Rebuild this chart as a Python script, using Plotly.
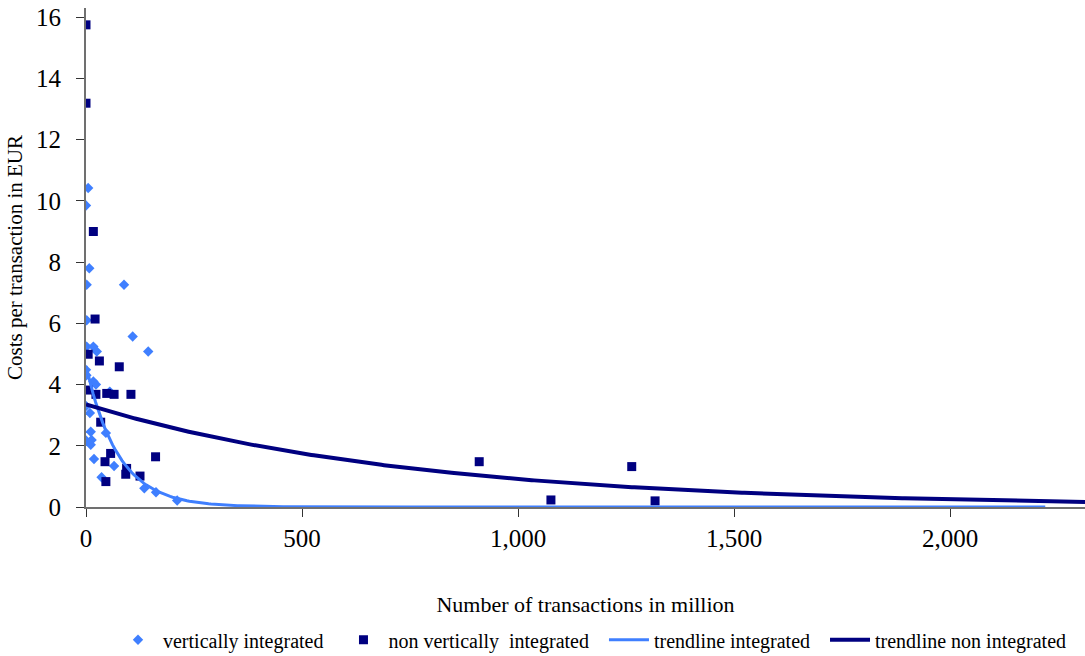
import numpy as np
import plotly.graph_objects as go

# vertically integrated (x: transactions in million, y: cost per transaction EUR)
vi_x = [5, 0, 7.6, 1.5, 88, 1.5, 108, 144, 1.5, 17, 25, 0, 1, 17, 23, 55, 0, 9, 11, 46, 0, 13, 11, 18.5, 65, 36, 135, 162, 211]
vi_y = [10.42, 9.85, 7.8, 7.26, 7.26, 6.1, 5.57, 5.08, 5.24, 5.24, 5.08, 4.48, 4.3, 4.1, 4.0, 3.77, 3.3, 3.07, 2.46, 2.42, 2.17, 2.19, 2.03, 1.57, 1.34, 0.97, 0.61, 0.48, 0.21]

# non vertically integrated
nvi_x = [0, 0, 17, 21, 5, 31, 77, 5, 23, 48, 65, 104, 34, 57, 44, 161, 94, 92, 125, 46, 910, 1076, 1263, 1317]
nvi_y = [15.75, 13.19, 9.0, 6.14, 4.99, 4.77, 4.58, 3.82, 3.68, 3.71, 3.68, 3.68, 2.77, 1.75, 1.48, 1.64, 1.26, 1.07, 1.01, 0.83, 1.48, 0.23, 1.32, 0.2]

# exponential trendline coefficients y = a * exp(b * x)
trend_int_a, trend_int_b, trend_int_xmax = 4.6, -0.0133, 2220
trend_non_a, trend_non_b, trend_non_xmax = 3.35, -0.0013, 2312

x_ticks = [0, 500, 1000, 1500, 2000]
x_tick_labels = ["0", "500", "1,000", "1,500", "2,000"]
y_ticks = [0, 2, 4, 6, 8, 10, 12, 14, 16]

LIGHT = "#3F7FFF"
DARK = "#000080"
FONT = "Liberation Serif"
PAD = "\u00a0" * 2

ti_x = np.linspace(0, trend_int_xmax, 400)
ti_y = trend_int_a * np.exp(trend_int_b * ti_x)
tn_x = np.linspace(0, trend_non_xmax, 400)
tn_y = trend_non_a * np.exp(trend_non_b * tn_x)

fig = go.Figure()
fig.add_trace(go.Scatter(x=vi_x, y=vi_y, mode="markers", name="vertically integrated" + PAD,
                         marker=dict(symbol="diamond", size=8, color=LIGHT)))
fig.add_trace(go.Scatter(x=nvi_x, y=nvi_y, mode="markers", name="non vertically\u00a0\u00a0integrated" + PAD,
                         marker=dict(symbol="square", size=9, color=DARK)))
fig.add_trace(go.Scatter(x=ti_x, y=ti_y, mode="lines", name="trendline integrated" + PAD,
                         line=dict(color=LIGHT, width=3)))
fig.add_trace(go.Scatter(x=tn_x, y=tn_y, mode="lines", name="trendline non integrated",
                         line=dict(color=DARK, width=4)))

fig.update_layout(
    width=1085, height=656,
    paper_bgcolor="white", plot_bgcolor="white",
    margin=dict(l=86, r=0, t=8, b=149, autoexpand=False),
    font=dict(family=FONT, color="black", size=18),
    legend=dict(orientation="h", x=0.507, xanchor="center", y=-0.227, yanchor="top",
                font=dict(size=20, family=FONT), itemwidth=40, traceorder="normal"),
    showlegend=True,
)
fig.update_xaxes(range=[0, 2312], tickvals=x_ticks, ticktext=x_tick_labels, automargin=False,
                 showgrid=False, zeroline=False, showline=True, linecolor="#707070", linewidth=2,
                 ticks="outside", ticklen=8, tickcolor="#333333",
                 tickfont=dict(size=25, family=FONT), ticklabeloverflow="allow",
                 title=dict(text="Number of transactions in million", font=dict(size=22, family=FONT), standoff=46))
fig.update_yaxes(range=[0, 16.3], tickvals=y_ticks, automargin=False,
                 showgrid=False, zeroline=False, showline=True, linecolor="#707070", linewidth=2,
                 ticks="outside", ticklen=8, tickcolor="#333333",
                 tickfont=dict(size=25, family=FONT), ticklabeloverflow="allow", ticklabelstandoff=10,
                 title=dict(text="Costs per transaction in EUR", font=dict(size=21, family=FONT), standoff=8))

fig.write_html("out.html", config={"displayModeBar": False},
               post_script="document.body.style.margin='0';")
